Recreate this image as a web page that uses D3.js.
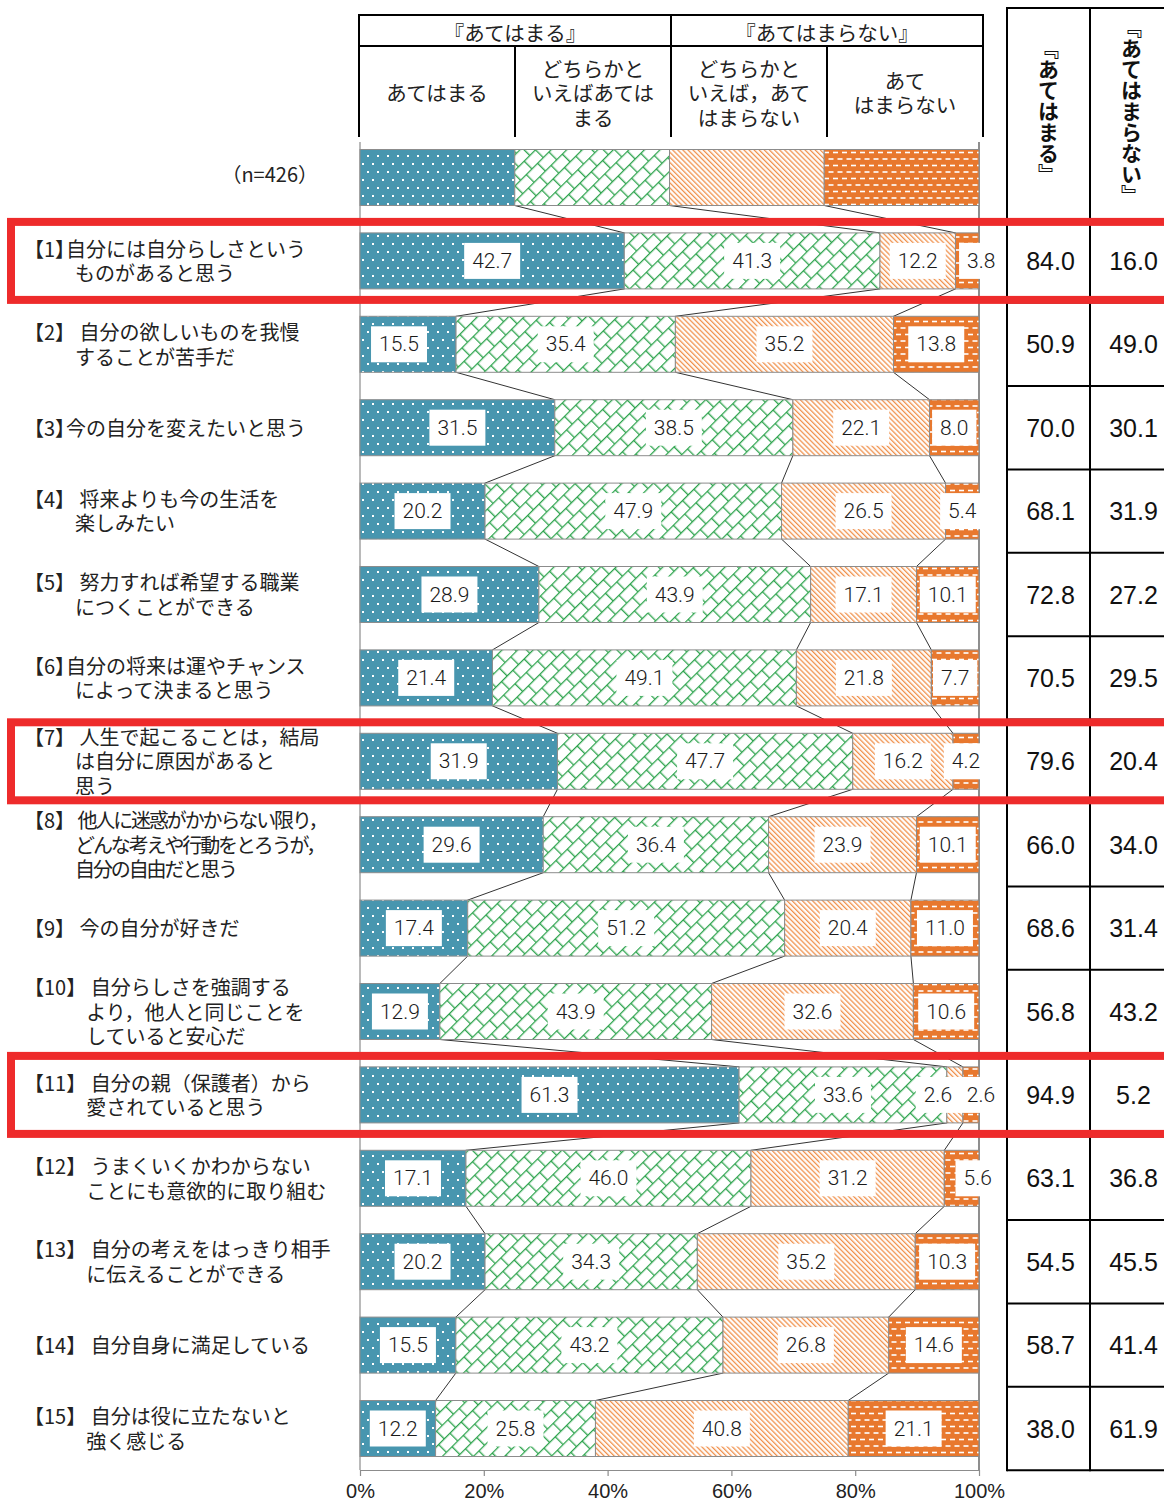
<!DOCTYPE html>
<html>
<head>
<meta charset="utf-8">
<script src="https://cdn.jsdelivr.net/npm/d3@7"></script>
<style>
  body { margin: 0; background: #fff; }
  svg { display: block; }
</style>
</head>
<body>
<svg id="chart" width="1164" height="1506"></svg>
<script>
// ---------- data ----------
const categories = [
  ["【1】自分には自分らしさという", "ものがあると思う"],
  ["【2】 自分の欲しいものを我慢", "することが苦手だ"],
  ["【3】今の自分を変えたいと思う"],
  ["【4】 将来よりも今の生活を", "楽しみたい"],
  ["【5】 努力すれば希望する職業", "につくことができる"],
  ["【6】自分の将来は運やチャンス", "によって決まると思う"],
  ["【7】 人生で起こることは，結局", "は自分に原因があると", "思う"],
  ["【8】 他人に迷惑がかからない限り，", "どんな考えや行動をとろうが，", "自分の自由だと思う"],
  ["【9】 今の自分が好きだ"],
  ["【10】 自分らしさを強調する", "より，他人と同じことを", "していると安心だ"],
  ["【11】 自分の親（保護者）から", "愛されていると思う"],
  ["【12】 うまくいくかわからない", "ことにも意欲的に取り組む"],
  ["【13】 自分の考えをはっきり相手", "に伝えることができる"],
  ["【14】 自分自身に満足している"],
  ["【15】 自分は役に立たないと", "強く感じる"]
];
const seriesKeys = ["yes", "ratherYes", "ratherNo", "no"];
const yes       = [42.7, 15.5, 31.5, 20.2, 28.9, 21.4, 31.9, 29.6, 17.4, 12.9, 61.3, 17.1, 20.2, 15.5, 12.2];
const ratherYes = [41.3, 35.4, 38.5, 47.9, 43.9, 49.1, 47.7, 36.4, 51.2, 43.9, 33.6, 46.0, 34.3, 43.2, 25.8];
const ratherNo  = [12.2, 35.2, 22.1, 26.5, 17.1, 21.8, 16.2, 23.9, 20.4, 32.6, 2.6, 31.2, 35.2, 26.8, 40.8];
const no        = [3.8, 13.8, 8.0, 5.4, 10.1, 7.7, 4.2, 10.1, 11.0, 10.6, 2.6, 5.6, 10.3, 14.6, 21.1];
const legendShares = [25, 25, 25, 25];
const sampleLabel = "（n=426）";
const groupHeaders = ["『あてはまる』", "『あてはまらない』"];
const answerHeaders = [
  ["あてはまる"],
  ["どちらかと", "いえばあては", "まる"],
  ["どちらかと", "いえば，あて", "はまらない"],
  ["あて", "はまらない"]
];
const tableHeaders = ["『あてはまる』", "『あてはまらない』"];
const highlighted = [1, 7, 11];
const tickValues = [0, 0.2, 0.4, 0.6, 0.8, 1];

// ---------- layout ----------
const JP = "'Noto Sans CJK JP', 'Noto Sans', sans-serif";
const NUM = "'Liberation Sans', Arial, sans-serif";
const svg = d3.select("#chart");
const x = d3.scaleLinear().domain([0, 1]).range([360, 979]);
const rowKeys = ["n", ...d3.range(1, 16)];
const y = d3.scalePoint().domain(rowKeys).range([177.5, 1428.5]);
const step = y.step();
const barH = 56;
const plotTop = 142, plotBottom = 1470;
const lineGap = 24.5;
// small horizontal shifts for labels that sit on very thin segments
const labelNudge = { "1:3": 14, "2:0": -9, "11:2": -17, "11:3": 10, "12:3": 16 };

// rows: sample bar first, then the 15 items
const rows = [Object.fromEntries(seriesKeys.map((k, j) => [k, legendShares[j]]))]
  .concat(yes.map((v, i) => ({ yes: v, ratherYes: ratherYes[i], ratherNo: ratherNo[i], no: no[i] })));
const stacked = d3.stack().keys(seriesKeys).offset(d3.stackOffsetExpand)(rows);

// ---------- patterns ----------
const defs = svg.append("defs");
const teal = "#4896AF", green = "#2CA34C", lightOrange = "#F0904A", orange = "#E8782E";
{
  const p = defs.append("pattern").attr("id", "p0").attr("patternUnits", "userSpaceOnUse")
    .attr("width", 10).attr("height", 16);
  p.append("rect").attr("width", 10).attr("height", 16).attr("fill", teal);
  p.append("rect").attr("x", 2).attr("y", 3).attr("width", 2).attr("height", 2).attr("fill", "#fff");
  p.append("rect").attr("x", 7).attr("y", 11).attr("width", 2).attr("height", 2).attr("fill", "#fff");
}
{
  const p = defs.append("pattern").attr("id", "p1").attr("patternUnits", "userSpaceOnUse")
    .attr("width", 16).attr("height", 22).attr("patternTransform", "rotate(-45)");
  p.append("rect").attr("width", 16).attr("height", 22).attr("fill", "#fff");
  p.append("path").attr("d", "M0,0.7H16M0,11.7H16M0.7,0.7V11.7M8.7,11.7V22.7")
    .attr("stroke", green).attr("stroke-width", 1.3).attr("fill", "none");
}
{
  const p = defs.append("pattern").attr("id", "p2").attr("patternUnits", "userSpaceOnUse")
    .attr("width", 8).attr("height", 3.6).attr("patternTransform", "rotate(45)");
  p.append("rect").attr("width", 8).attr("height", 3.6).attr("fill", "#fff");
  p.append("line").attr("x1", 0).attr("x2", 8).attr("y1", 1.2).attr("y2", 1.2)
    .attr("stroke", lightOrange).attr("stroke-width", 1.3);
}
{
  const p = defs.append("pattern").attr("id", "p3").attr("patternUnits", "userSpaceOnUse")
    .attr("width", 9).attr("height", 13);
  p.append("rect").attr("width", 9).attr("height", 13).attr("fill", orange);
  [[0.5, 2.2], [5, 8.7], [-4, 8.7]].forEach(([dx, dy]) =>
    p.append("rect").attr("x", dx).attr("y", dy).attr("width", 5).attr("height", 1.6).attr("fill", "#fff"));
}

// multi-line text helper: one <text>, one <tspan> per line
function multiLine(parent, lines, cx, cy, size) {
  const t = parent.append("text").attr("text-anchor", "middle").attr("dominant-baseline", "central")
    .style("font-family", JP).style("font-size", size + "px").attr("fill", "#222");
  lines.forEach((ln, k) => {
    t.append("tspan").attr("x", cx).attr("y", cy + (k - (lines.length - 1) / 2) * lineGap).text(ln);
  });
  return t;
}

// ---------- column header box ----------
const hdr = svg.append("g").attr("stroke", "#000").attr("stroke-width", 2);
const hx = d3.scaleLinear().domain([0, 1]).range([359, 983]);
hdr.append("line").attr("x1", hx(0) - 1).attr("x2", hx(1) + 1).attr("y1", 15).attr("y2", 15);
hdr.append("line").attr("x1", hx(0)).attr("x2", hx(1)).attr("y1", 46).attr("y2", 46);
[0, 0.25, 0.5, 0.75, 1].forEach(t => {
  const full = t === 0 || t === 0.5 || t === 1;
  hdr.append("line").attr("x1", hx(t)).attr("x2", hx(t)).attr("y1", full ? 15 : 46).attr("y2", 137);
});
groupHeaders.forEach((h, j) => multiLine(svg, [h], hx(j * 0.5 + 0.25), 32, 20.5));
answerHeaders.forEach((lines, j) => multiLine(svg, lines, hx(j * 0.25 + 0.125), 92, 20.5));

// ---------- plot frame lines ----------
svg.append("line").attr("x1", x(0)).attr("x2", x(0)).attr("y1", plotTop).attr("y2", plotBottom)
  .attr("stroke", "#8c8c8c").attr("stroke-width", 1.2);
svg.append("line").attr("x1", x(1)).attr("x2", x(1)).attr("y1", plotTop).attr("y2", plotBottom)
  .attr("stroke", "#444").attr("stroke-width", 1.2);

// ---------- series lines between consecutive bars ----------
const conn = svg.append("g").attr("stroke", "#333").attr("stroke-width", 1);
for (let i = 0; i < rows.length - 1; i++) {
  for (let k = 0; k < 3; k++) {
    conn.append("line")
      .attr("x1", x(stacked[k][i][1])).attr("y1", y(rowKeys[i]) + barH / 2)
      .attr("x2", x(stacked[k][i + 1][1])).attr("y2", y(rowKeys[i + 1]) - barH / 2);
  }
}

// ---------- bars ----------
const bars = svg.append("g");
stacked.forEach((s, k) => {
  bars.append("g").selectAll("rect").data(s).join("rect")
    .attr("x", d => x(d[0]))
    .attr("y", (d, i) => y(rowKeys[i]) - barH / 2)
    .attr("width", d => x(d[1]) - x(d[0]))
    .attr("height", barH)
    .attr("fill", `url(#p${k})`)
    .attr("stroke", "#8c8c8c").attr("stroke-width", 1);
});

// ---------- value labels ----------
const fmt = d3.format(".1f");
const labels = svg.append("g");
stacked.forEach((s, k) => {
  s.forEach((d, i) => {
    if (i === 0) return;
    const v = rows[i][seriesKeys[k]];
    const cx = (x(d[0]) + x(d[1])) / 2 + (labelNudge[`${i}:${k}`] || 0);
    const cy = y(rowKeys[i]);
    const g = labels.append("g");
    const t = g.append("text").attr("x", cx).attr("y", cy)
      .attr("text-anchor", "middle").attr("dominant-baseline", "central")
      .style("font-family", "Roboto, 'Liberation Sans', sans-serif").style("font-weight", 300)
      .style("font-size", "21px").attr("fill", "#1a1a1a").text(fmt(v));
    const w = t.node().getComputedTextLength();
    g.insert("rect", "text").attr("x", cx - w / 2 - 8).attr("y", cy - 18)
      .attr("width", w + 16).attr("height", 36).attr("fill", "#fff");
  });
});

// ---------- category labels ----------
const catG = svg.append("g").style("font-family", JP).style("font-size", "20px").attr("fill", "#222");
const labelX = 24, maxLine = 250, fitWidth = 253;
function measure(str) {
  const t = catG.append("text").style("white-space", "pre").text(str);
  const w = t.node().getComputedTextLength();
  t.remove();
  return w;
}
categories.forEach((lines, i) => {
  const cy = y(i + 1) - 1;
  const prefix = lines[0].match(/^【\d+】/)[0];
  const body = lines[0].slice(prefix.length);
  const indent = measure(prefix);
  const bodies = [body, ...lines.slice(1)];
  // long labels are set tighter so they stay inside the label column
  const widest = d3.max(bodies, b => measure(b));
  const spacing = widest > maxLine ? 20 * (fitWidth / widest - 1) : 0;
  const y0 = cy - (lines.length - 1) / 2 * lineGap;
  const t = catG.append("text").attr("dominant-baseline", "central").style("white-space", "pre");
  t.append("tspan").attr("x", labelX).attr("y", y0).text(prefix);
  t.append("tspan").attr("dx", body.startsWith(" ") ? 0 : -9)
    .style("letter-spacing", spacing + "px").text(body);
  lines.slice(1).forEach((ln, k) => {
    t.append("tspan").attr("x", labelX + indent).attr("y", y0 + (k + 1) * lineGap)
      .style("letter-spacing", spacing + "px").text(ln);
  });
});
svg.append("text").attr("x", 318).attr("y", y("n") - 4)
  .attr("text-anchor", "end").attr("dominant-baseline", "central")
  .style("font-family", JP).style("font-size", "20px").attr("fill", "#222").text(sampleLabel);

// ---------- summary table ----------
const colX = [1007, 1090, 1173];
const tableTop = 8;
const headBottom = y(1) - step / 2;
const tbl = svg.append("g").attr("stroke", "#000").attr("stroke-width", 2);
tbl.append("line").attr("x1", colX[0] - 1).attr("x2", 1164).attr("y1", tableTop).attr("y2", tableTop);
tbl.append("line").attr("x1", colX[0]).attr("x2", 1164).attr("y1", headBottom).attr("y2", headBottom);
d3.range(1, 16).forEach(r => {
  const yy = y(r) + step / 2;
  tbl.append("line").attr("x1", colX[0]).attr("x2", 1164).attr("y1", yy).attr("y2", yy);
});
colX.forEach(cx => {
  tbl.append("line").attr("x1", cx).attr("x2", cx).attr("y1", tableTop).attr("y2", y(15) + step / 2 + 1);
});
tableHeaders.forEach((h, j) => {
  svg.append("text").attr("x", (colX[j] + colX[j + 1]) / 2).attr("y", 111)
    .attr("text-anchor", "middle")
    .style("writing-mode", "vertical-rl")
    .style("font-family", JP).style("font-size", "21px").style("font-weight", "bold")
    .attr("fill", "#111").text(h);
});
const totalsYes = yes.map((v, i) => v + ratherYes[i]);
const totalsNo = ratherNo.map((v, i) => v + no[i]);
[totalsYes, totalsNo].forEach((arr, j) => {
  arr.forEach((v, i) => {
    svg.append("text").attr("x", (colX[j] + colX[j + 1]) / 2 + 2).attr("y", y(i + 1))
      .attr("text-anchor", "middle").attr("dominant-baseline", "central")
      .style("font-family", NUM).style("font-size", "25px").attr("fill", "#111").text(fmt(v));
  });
});

// ---------- x axis ----------
const axis = svg.append("g").attr("transform", `translate(0,${plotBottom})`)
  .call(d3.axisBottom(x).tickValues(tickValues).tickFormat(d3.format(".0%")).tickSize(6).tickSizeOuter(0));
axis.select(".domain").attr("stroke", "#8c8c8c").attr("stroke-width", 1.2);
axis.selectAll(".tick line").attr("stroke", "#8c8c8c").attr("stroke-width", 1.2);
axis.selectAll(".tick text").attr("y", 14).attr("dy", "0.71em")
  .style("font-family", NUM).style("font-size", "20px").attr("fill", "#222");

// ---------- highlight frames ----------
highlighted.forEach(r => {
  svg.append("rect").attr("x", 11).attr("y", y(r) - 39).attr("width", 1200).attr("height", 78)
    .attr("fill", "none").attr("stroke", "#EE2B2B").attr("stroke-width", 8);
});
</script>
</body>
</html>
